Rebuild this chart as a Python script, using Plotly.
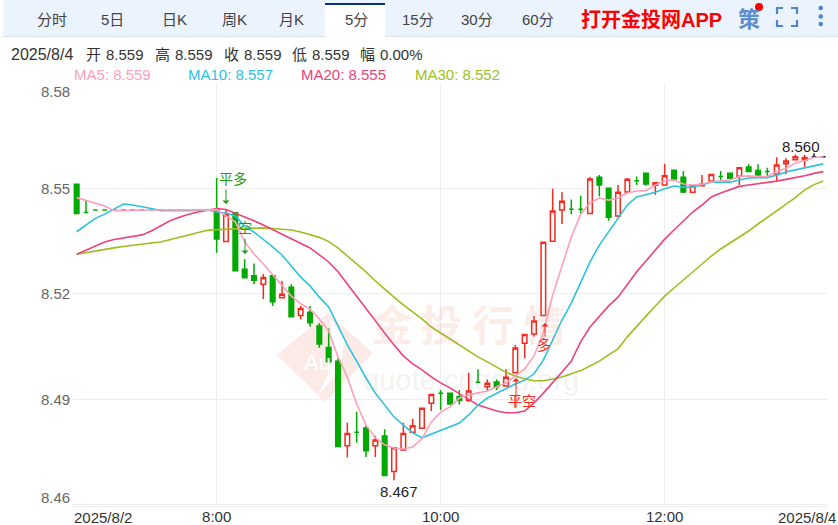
import plotly.graph_objects as go

FLAT = [8.5439] * 13
opens = [8.5512, 8.5432] + FLAT + [8.5441, 8.5349, 8.5431, 8.5270, 8.5252, 8.5228, 8.5252, 8.5189, 8.5219, 8.5139,
    8.5148, 8.5109, 8.5048, 8.5009, 8.4768, 8.4807, 8.4819, 8.4768, 8.4796, 8.4695,
    8.4756, 8.4807, 8.4818, 8.4889, 8.4918, 8.4918, 8.4908, 8.4898, 8.4949, 8.4936,
    8.4950, 8.4938, 8.4976, 8.5060, 8.5086, 8.5139, 8.5350, 8.5439, 8.5441, 8.5441,
    8.5429, 8.5532, 8.5501, 8.5422, 8.5490, 8.5522, 8.5543, 8.5509, 8.5510, 8.5552,
    8.5532, 8.5489, 8.5508, 8.5521, 8.5534, 8.5543, 8.5535, 8.5561, 8.5551, 8.5548,
    8.5541, 8.5570, 8.5582, 8.5581, 8.5590, 8.5590]
highs = [8.5512, 8.5467] + FLAT + [8.5530, 8.5439, 8.5431, 8.5299, 8.5287, 8.5257, 8.5252, 8.5237, 8.5228, 8.5166,
    8.5166, 8.5117, 8.5102, 8.5018, 8.4834, 8.4865, 8.4825, 8.4797, 8.4815, 8.4763,
    8.4834, 8.4845, 8.4875, 8.4914, 8.4926, 8.4918, 8.4927, 8.4976, 8.4986, 8.4957,
    8.4957, 8.4986, 8.5055, 8.5085, 8.5137, 8.5347, 8.5499, 8.5489, 8.5469, 8.5479,
    8.5533, 8.5538, 8.5501, 8.5510, 8.5530, 8.5534, 8.5543, 8.5516, 8.5570, 8.5552,
    8.5550, 8.5508, 8.5538, 8.5540, 8.5550, 8.5543, 8.5559, 8.5569, 8.5569, 8.5559,
    8.5589, 8.5586, 8.5597, 8.5595, 8.5600, 8.5590]
lows = [8.5429, 8.5432] + FLAT + [8.5317, 8.5349, 8.5266, 8.5246, 8.5228, 8.5186, 8.5166, 8.5188, 8.5135, 8.5128,
    8.5107, 8.5047, 8.4995, 8.4766, 8.4735, 8.4777, 8.4736, 8.4736, 8.4684, 8.4670,
    8.4756, 8.4807, 8.4818, 8.4867, 8.4870, 8.4887, 8.4886, 8.4893, 8.4949, 8.4927,
    8.4927, 8.4938, 8.4976, 8.5017, 8.5079, 8.5139, 8.5350, 8.5399, 8.5427, 8.5429,
    8.5429, 8.5477, 8.5408, 8.5419, 8.5490, 8.5510, 8.5508, 8.5482, 8.5510, 8.5524,
    8.5487, 8.5489, 8.5508, 8.5521, 8.5524, 8.5529, 8.5510, 8.5548, 8.5532, 8.5529,
    8.5521, 8.5541, 8.5582, 8.5562, 8.5590, 8.5590]
closes = [8.5429, 8.5432] + FLAT + [8.5356, 8.5425, 8.5266, 8.5246, 8.5239, 8.5247, 8.5178, 8.5199, 8.5135, 8.5159,
    8.5118, 8.5058, 8.5007, 8.4766, 8.4803, 8.4807, 8.4754, 8.4785, 8.4684, 8.4763,
    8.4803, 8.4825, 8.4875, 8.4914, 8.4918, 8.4887, 8.4897, 8.4924, 8.4949, 8.4946,
    8.4936, 8.4963, 8.5046, 8.5085, 8.5123, 8.5347, 8.5436, 8.5464, 8.5441, 8.5441,
    8.5527, 8.5510, 8.5418, 8.5489, 8.5526, 8.5522, 8.5513, 8.5516, 8.5536, 8.5527,
    8.5490, 8.5508, 8.5512, 8.5540, 8.5534, 8.5529, 8.5559, 8.5548, 8.5538, 8.5548,
    8.5567, 8.5578, 8.5590, 8.5588, 8.5590, 8.5590]

ma5 = [8.5474, 8.5466, 8.5460, 8.5450, 8.5437, 8.5438, 8.5439, 8.5439, 8.5439, 8.5439,
    8.5439, 8.5439, 8.5439, 8.5439, 8.5440, 8.5440, 8.5422, 8.5405, 8.5348, 8.5314,
    8.5285, 8.5254, 8.5226, 8.5194, 8.5172, 8.5157, 8.5129, 8.5095, 8.5021, 8.4964,
    8.4887, 8.4827, 8.4791, 8.4771, 8.4762, 8.4759, 8.4765, 8.4788, 8.4836, 8.4864,
    8.4879, 8.4904, 8.4913, 8.4918, 8.4924, 8.4936, 8.4947, 8.4967, 8.4987, 8.5024,
    8.5089, 8.5197, 8.5282, 8.5362, 8.5427, 8.5459, 8.5473, 8.5467, 8.5473, 8.5487,
    8.5493, 8.5494, 8.5510, 8.5522, 8.5524, 8.5513, 8.5510, 8.5512, 8.5519, 8.5521,
    8.5524, 8.5534, 8.5536, 8.5534, 8.5534, 8.5548, 8.5557, 8.5572, 8.5581, 8.5588, 8.5590]
ma10 = [8.5377, 8.5396, 8.5415, 8.5427, 8.5442, 8.5456, 8.5453, 8.5449, 8.5443, 8.5437,
    8.5436, 8.5437, 8.5437, 8.5437, 8.5439, 8.5433, 8.5430, 8.5422, 8.5393, 8.5376,
    8.5356, 8.5334, 8.5311, 8.5280, 8.5248, 8.5223, 8.5191, 8.5163, 8.5109, 8.5055,
    8.5009, 8.4961, 8.4918, 8.4884, 8.4850, 8.4827, 8.4805, 8.4791, 8.4802, 8.4813,
    8.4822, 8.4833, 8.4856, 8.4884, 8.4904, 8.4918, 8.4930, 8.4944, 8.4955, 8.4973,
    8.5012, 8.5069, 8.5126, 8.5174, 8.5231, 8.5291, 8.5339, 8.5376, 8.5413, 8.5453,
    8.5476, 8.5483, 8.5489, 8.5499, 8.5507, 8.5504, 8.5504, 8.5511, 8.5518, 8.5518,
    8.5518, 8.5524, 8.5530, 8.5531, 8.5531, 8.5538, 8.5547, 8.5553, 8.5558, 8.5564, 8.5570]
ma20 = [8.5313, 8.5324, 8.5336, 8.5348, 8.5355, 8.5359, 8.5364, 8.5368, 8.5379, 8.5393,
    8.5408, 8.5418, 8.5427, 8.5433, 8.5439, 8.5443, 8.5440, 8.5430, 8.5419, 8.5408,
    8.5396, 8.5383, 8.5371, 8.5358, 8.5345, 8.5331, 8.5311, 8.5291, 8.5263, 8.5228,
    8.5191, 8.5157, 8.5123, 8.5089, 8.5055, 8.5024, 8.5001, 8.4984, 8.4964, 8.4947,
    8.4933, 8.4916, 8.4899, 8.4884, 8.4876, 8.4867, 8.4862, 8.4862, 8.4867, 8.4890,
    8.4918, 8.4947, 8.4978, 8.5009, 8.5064, 8.5106, 8.5137, 8.5166, 8.5191, 8.5228,
    8.5263, 8.5294, 8.5325, 8.5356, 8.5382, 8.5408, 8.5433, 8.5453, 8.5476, 8.5487,
    8.5496, 8.5506, 8.5510, 8.5513, 8.5517, 8.5521, 8.5526, 8.5530, 8.5536, 8.5543, 8.5548]
ma30 = [8.5313, 8.5318, 8.5322, 8.5327, 8.5331, 8.5335, 8.5339, 8.5342, 8.5345, 8.5348,
    8.5355, 8.5362, 8.5369, 8.5376, 8.5381, 8.5383, 8.5383, 8.5385, 8.5386, 8.5388,
    8.5388, 8.5386, 8.5385, 8.5382, 8.5376, 8.5369, 8.5361, 8.5349, 8.5331, 8.5308,
    8.5285, 8.5263, 8.5237, 8.5213, 8.5191, 8.5169, 8.5149, 8.5129, 8.5106, 8.5089,
    8.5072, 8.5055, 8.5038, 8.5021, 8.5007, 8.4991, 8.4977, 8.4967, 8.4958, 8.4953,
    8.4953, 8.4958, 8.4964, 8.4973, 8.4982, 8.4995, 8.5009, 8.5027, 8.5044, 8.5078,
    8.5109, 8.5137, 8.5166, 8.5194, 8.5217, 8.5240, 8.5263, 8.5285, 8.5308, 8.5328,
    8.5345, 8.5362, 8.5379, 8.5399, 8.5418, 8.5436, 8.5456, 8.5474, 8.5496, 8.5511, 8.5521]

y_ticks = [8.58, 8.55, 8.52, 8.49, 8.46]
y_shift = [-8, 0, 0, 0, 7]
x_tick_idx = [15, 39, 63]
x_tick_text = ["8:00", "10:00", "12:00"]
tabs = ["分时", "5日", "日K", "周K", "月K", "5分", "15分", "30分", "60分"]
tab_centers = [52, 112, 174, 234, 291, 356, 418, 477, 538]
ohlc_text = [(9, "2025/8/4"), (84, "开"), (104, "8.559"), (153, "高"), (173, "8.559"), (222, "收"),
             (242, "8.559"), (290, "低"), (310, "8.559"), (358, "幅"), (378, "0.00%")]
ma_names = ["MA5", "MA10", "MA20", "MA30"]
ma_last = ["8.559", "8.557", "8.555", "8.552"]
ma_label_x = [72, 186, 299, 413]
ma_colors = ["#ff9fbc", "#2cc3de", "#f0417b", "#9cbf1e"]

W, H = 838, 525
L, R, T, B = 72, 828, 83, 506
FONT = "Liberation Sans, Arial, Noto Sans CJK SC"
RED, GREEN, DARK = "#f42a1e", "#00aa00", "#222222"


def px(x):
    return (x - L) / (R - L)


def py(y):
    return (B - y) / (B - T)


n = len(closes)
final_bars = {79, 80}
groups = {"up": [], "down": [], "last": []}
for i in range(n):
    if i in final_bars:
        groups["last"].append(i)
    elif closes[i] > opens[i]:
        groups["up"].append(i)
    else:
        groups["down"].append(i)

fig = go.Figure()
styles = {"up": (RED, "#ffffff"), "down": (GREEN, GREEN), "last": (DARK, DARK)}
for key, idx in groups.items():
    line_c, fill_c = styles[key]
    side = dict(line=dict(color=line_c, width=1.5), fillcolor=fill_c)
    fig.add_trace(go.Candlestick(
        x=idx,
        open=[opens[i] for i in idx], high=[highs[i] for i in idx],
        low=[lows[i] for i in idx], close=[closes[i] for i in idx],
        increasing=side, decreasing=side, whiskerwidth=0, showlegend=False,
    ))

for vals, col in zip([ma5, ma10, ma20, ma30][::-1], ma_colors[::-1]):
    fig.add_trace(go.Scatter(x=list(range(n)), y=vals, mode="lines", showlegend=False,
                             line=dict(color=col, width=1.6)))

ann = []


def text(x, y, s, size=14, color="#333333", anchor="center", bold=False, vanchor="middle", family=FONT):
    ann.append(dict(xref="paper", yref="paper", x=px(x), y=py(y), text=f"<b>{s}</b>" if bold else s,
                    showarrow=False, xanchor=anchor, yanchor=vanchor,
                    font=dict(size=size, color=color, family=family)))


# watermark
WM = "rgba(236,140,120,0.17)"
for cx, ch in zip([392, 441, 493, 545], "金投行情"):
    text(cx, 326, ch, size=42, color=WM, bold=True)
text(471, 380, "quote.cngold.org", size=29, color="rgba(120,120,120,0.11)")
text(317, 362, "Au", size=22, color="#ffffff")

for t, s in zip(tabs, tab_centers):
    text(s, 20, t, size=15, color="#444444")
text(651, 19, "打开金投网APP", size=20, color="#ff0000", bold=True)
text(749, 19, "策", size=22, color="#5b8ecf", bold=True)

for x0, s in ohlc_text:
    text(x0, 55, s, size=16 if s.startswith("2025") else 15, color="#333333", anchor="left")
for x0, name, val, col in zip(ma_label_x, ma_names, ma_last, ma_colors):
    text(x0, 74, f"{name}: {val}", size=15, color=col, anchor="left")

for v, sh in zip(y_ticks, y_shift):
    ann.append(dict(xref="paper", yref="y", x=0, y=v, text=f"{v:.2f}", showarrow=False, xanchor="right",
                    yanchor="middle", yshift=sh, font=dict(size=15, color="#666666", family=FONT)))

text(72, 517, "2025/8/2", size=15, anchor="left")
text(838, 517, "2025/8/4", size=15, anchor="right")

# extreme labels
text(399, 491, "8.467", size=15, color="#222222")
text(801, 146, "8.560", size=15, color="#222222")

# trade marks
text(232.5, 179, "平多", size=14, color="#1c9a1c")
text(245, 228, "空", size=14, color="#1c9a1c")
text(522, 401, "平空", size=14, color=RED)
text(544, 345, "多", size=14, color=RED)


def arrow(x, y_tip, y_tail, color):
    ann.append(dict(xref="paper", yref="paper", x=px(x), y=py(y_tip), axref="pixel", ayref="pixel",
                    ax=0, ay=y_tail - y_tip, text="", showarrow=True, arrowhead=1, arrowsize=1.2,
                    arrowwidth=1, arrowcolor=color))


arrow(226, 204, 188, "#1c9a1c")
arrow(245, 254, 237, "#1c9a1c")
arrow(545, 323, 338, RED)
arrow(516, 378, 409, RED)

shapes = []


def rect(x0, y0, x1, y1, fill):
    shapes.append(dict(type="rect", xref="paper", yref="paper", x0=px(x0), x1=px(x1), y0=py(y0), y1=py(y1),
                       fillcolor=fill, line_width=0, layer="below"))


def path(points, fill=None, color=None, width=2):
    d = "M" + " L".join(f"{px(a):.5f},{py(b):.5f}" for a, b in points)
    if fill:
        d += " Z"
    shapes.append(dict(type="path", xref="paper", yref="paper", path=d, fillcolor=fill or "rgba(0,0,0,0)",
                       line=dict(color=color or "rgba(0,0,0,0)", width=width), layer="below"))


# header band
rect(3, 0, 838, 36, "#ebf3fe")
rect(3, 36, 838, 37, "#d9e4f3")
rect(325, 3, 385, 38, "#ffffff")
rect(325, 3, 385, 5, "#0b2a8c")
# watermark diamond
path([(277, 355), (328, 313), (373, 353), (325, 402)], fill="#fbeae6")
path([(330, 318), (345, 340), (340, 372), (318, 395), (329, 372), (332, 345)], fill="#ffffff")
# red dot, fullscreen and menu icons
shapes.append(dict(type="circle", xref="paper", yref="paper", x0=px(755), x1=px(763), y0=py(3), y1=py(11),
                   fillcolor="#ff0000", line_width=0))
for a, b, c in [((783, 8), (777, 8), (777, 14)), ((791, 8), (797, 8), (797, 14)),
                ((777, 20), (777, 26), (783, 26)), ((797, 20), (797, 26), (791, 26))]:
    shapes.append(dict(type="path", xref="paper", yref="paper",
                       path=f"M{px(a[0]):.5f},{py(a[1]):.5f} L{px(b[0]):.5f},{py(b[1]):.5f} L{px(c[0]):.5f},{py(c[1]):.5f}",
                       line=dict(color="#4a86d0", width=2.2)))
for cy in [8, 16.5, 24]:
    shapes.append(dict(type="circle", xref="paper", yref="paper", x0=px(818.5), x1=px(823), y0=py(cy - 2.2),
                       y1=py(cy + 2.2), fillcolor="#4a86d0", line_width=0))

fig.update_layout(
    width=W, height=H, autosize=False,
    margin=dict(l=L, r=W - R, t=T, b=H - B, autoexpand=False),
    paper_bgcolor="#ffffff", plot_bgcolor="#ffffff",
    boxmode="overlay", showlegend=False,
    annotations=ann, shapes=shapes, hovermode=False,
    font=dict(family=FONT),
    xaxis=dict(range=[-0.5, 80.5], tickmode="array", tickvals=x_tick_idx, ticktext=x_tick_text,
               showgrid=True, gridcolor="#eeeeee", gridwidth=1, zeroline=False,
               rangeslider=dict(visible=False), ticks="", ticklen=0, ticklabelstandoff=-3,
               tickfont=dict(size=15, color="#333333", family=FONT),
               showline=True, linecolor="#eeeeee"),
    yaxis=dict(range=[8.4597, 8.58], tickmode="array", tickvals=y_ticks, showticklabels=False,
               showgrid=True, gridcolor="#eeeeee", gridwidth=1, zeroline=False, ticks=""),
)

fig.write_html("out.html", config=dict(displayModeBar=False),
               post_script="document.body.style.margin='0';document.documentElement.style.overflow='hidden';")
